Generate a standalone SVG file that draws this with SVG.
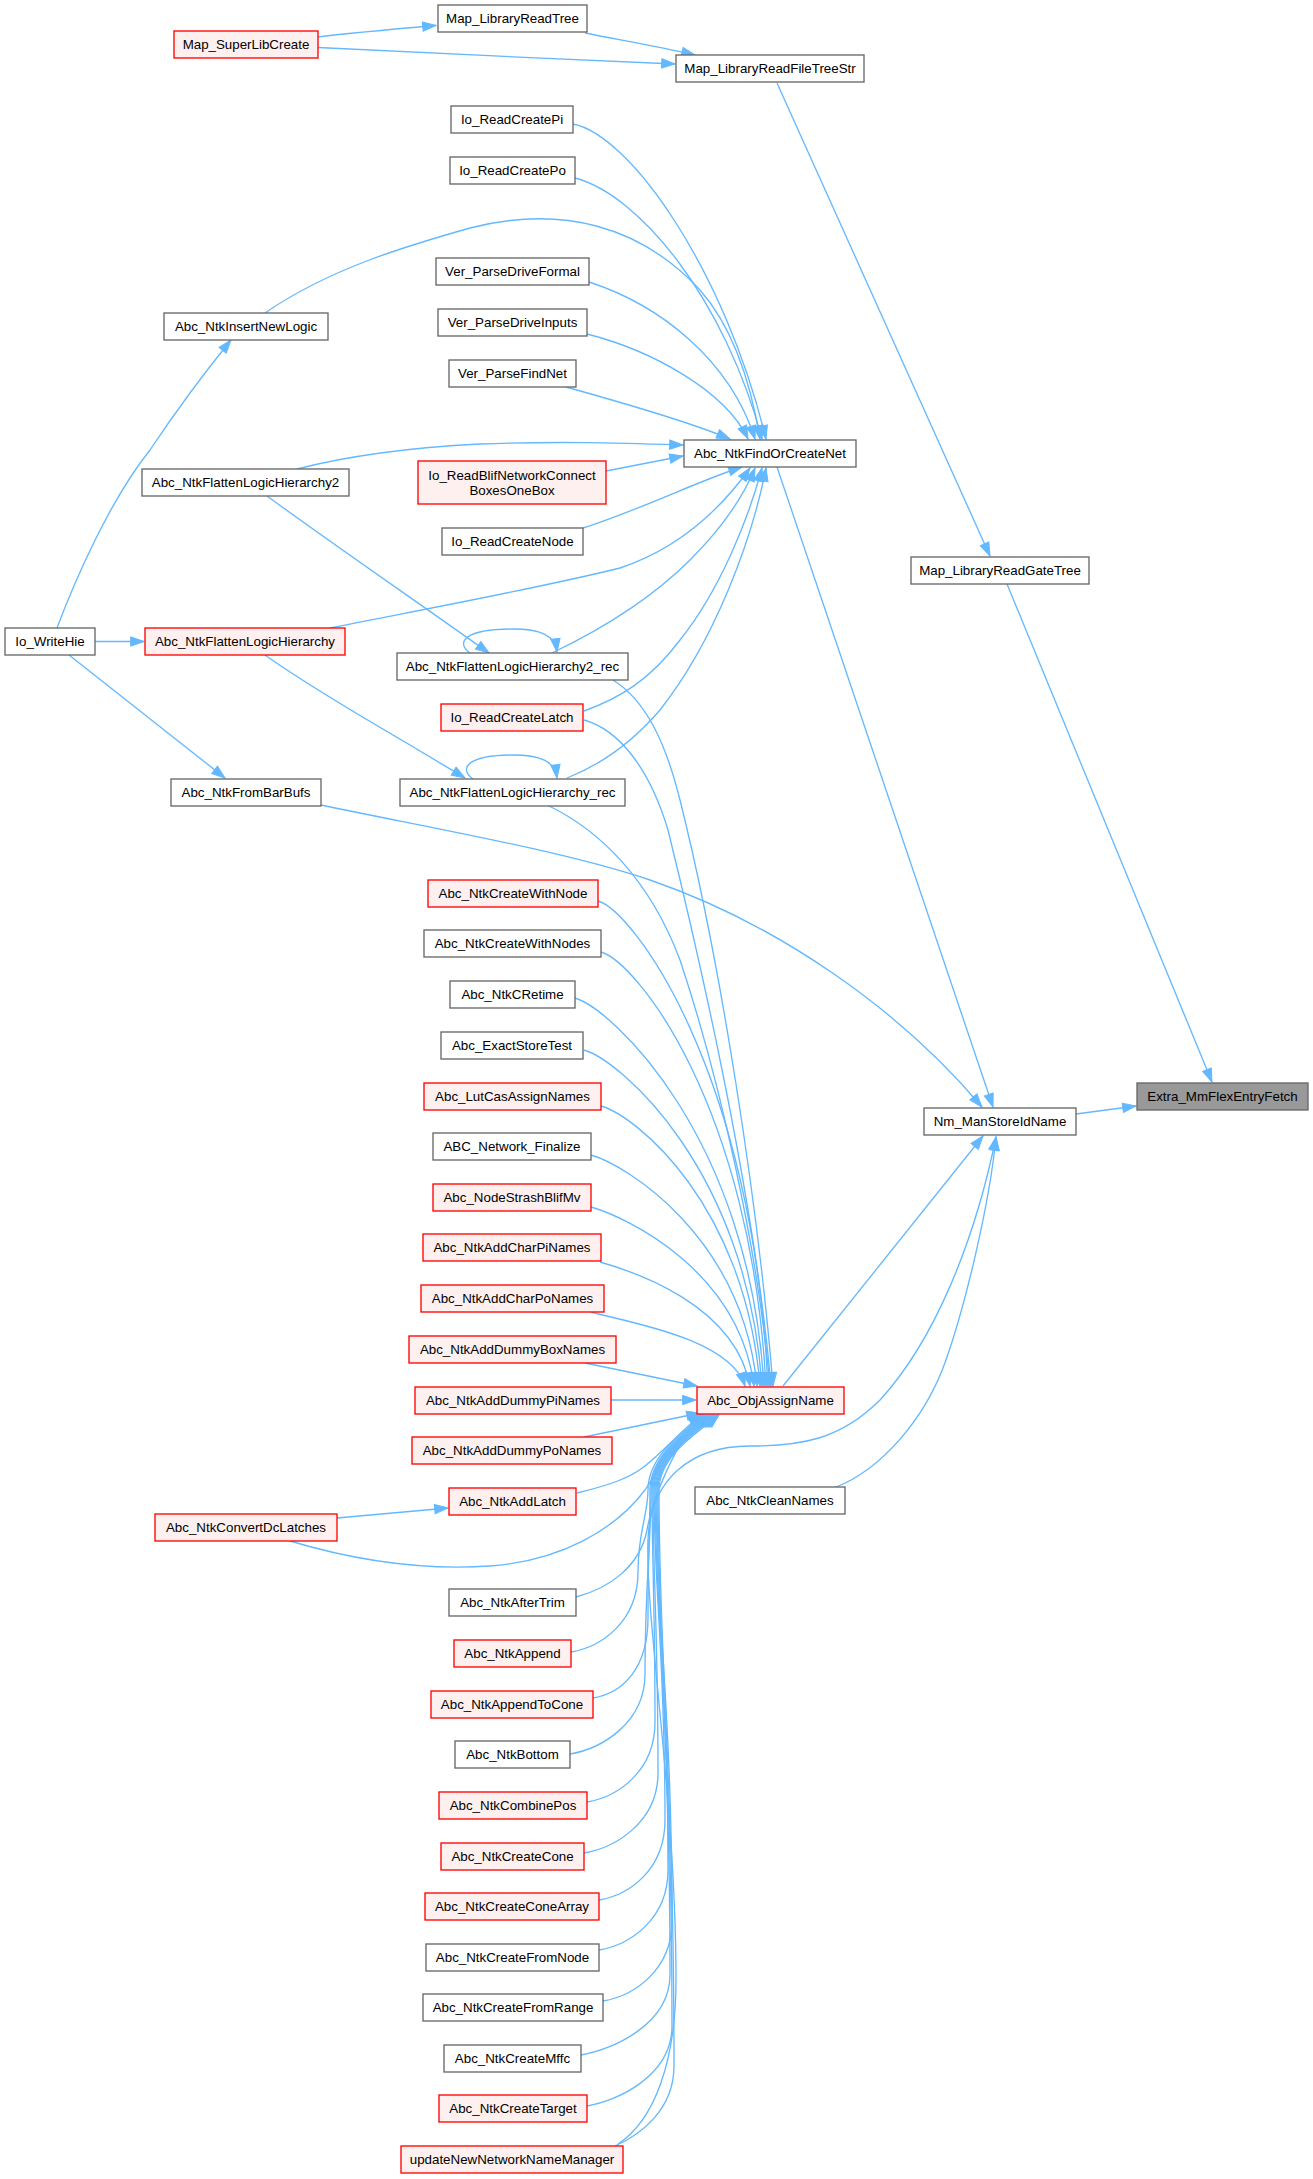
<svg xmlns="http://www.w3.org/2000/svg" width="1313" height="2179" viewBox="0 0 1313 2179">
<style>
.e{fill:none;stroke:#63b8ff;stroke-width:1.33;marker-end:url(#ah)}
.n rect{fill:#ffffff;stroke:#666666;stroke-width:1.33}
.r rect{fill:#fff0f0;stroke:#ff0000;stroke-width:1.33}
.t rect{fill:#999999;stroke:#666666;stroke-width:1.33}
text{font-family:"Liberation Sans",Arial,Helvetica,sans-serif;font-size:13.33px;text-anchor:middle;fill:#000000}
</style>
<defs>
<marker id="ah" markerUnits="userSpaceOnUse" markerWidth="14" markerHeight="10" refX="13.3" refY="4.67" orient="auto" overflow="visible">
<path d="M0,0 L13.3,4.67 L0,9.33 z" fill="#63b8ff" stroke="#63b8ff" stroke-width="1"/>
</marker>
</defs>
<rect width="1313" height="2179" fill="#ffffff"/>
<g id="edges">
<path class="e" d="M318,37 C350,33 395,29 436,25.5"/>
<path class="e" d="M318,47.5 C420,53 560,59 675,64"/>
<path class="e" d="M585,33 C620,40 660,47 695,55"/>
<path class="e" d="M777,83 L990,556"/>
<path class="e" d="M1007,584 L1212,1082"/>
<path class="e" d="M1076,1114 L1136,1106"/>
<path class="e" d="M777,467 L993,1107"/>
<path class="e" d="M321,805 C430,828 560,850 650,880 C780,925 900,1010 982,1107"/>
<path class="e" d="M783,1386 L983,1136"/>
<path class="e" d="M836,1487 C880,1470 925,1420 946,1360 C967,1300 990,1200 996,1137"/>
<path class="e" d="M618,2144 C655,2120 676,2060 676,1980 C676,1800 645,1620 648,1540 C650,1480 690,1446 750,1446 C800,1446 840,1440 880,1400 C935,1340 975,1240 996,1137"/>
<path class="e" d="M57,628 C75,580 110,500 150,450 C180,405 205,372 231,340"/>
<path class="e" d="M95,641.5 L144,641.5"/>
<path class="e" d="M69,655 L225,778"/>
<path class="e" d="M573,124 C630,135 725,270 766,439"/>
<path class="e" d="M575,178 C640,195 725,300 762,439"/>
<path class="e" d="M265,313 C330,268 410,245 470,228 C560,205 640,225 700,290 C735,330 752,390 760,439"/>
<path class="e" d="M589,282 C660,305 730,360 755,439"/>
<path class="e" d="M587,334 C650,350 725,390 748,439"/>
<path class="e" d="M566,387 C620,402 690,422 730,439"/>
<path class="e" d="M297,469 C340,458 400,448 480,444 C560,441 620,443 683,445"/>
<path class="e" d="M606,471 L683,456"/>
<path class="e" d="M583,528 C640,510 700,480 742,467"/>
<path class="e" d="M330,628 C420,610 540,588 620,568 C680,548 720,510 750,468"/>
<path class="e" d="M552,653 C600,630 650,600 690,560 C720,530 742,500 755,468"/>
<path class="e" d="M584,711 C620,698 650,680 680,640 C720,590 748,520 762,468"/>
<path class="e" d="M567,778 C600,765 630,745 660,710 C715,640 752,540 766,468"/>
<path class="e" d="M267,496 C330,542 400,590 489,653"/>
<path class="e" d="M265,655 C300,680 350,710 410,745 C430,757 447,767 465,778"/>
<path class="e" d="M470,653 C455,642 465,629 513,629 C540,629 555,635 557,652"/>
<path class="e" d="M473,779 C458,768 468,755 513,755 C540,755 555,761 557,778"/>
<path class="e" d="M613,680 C645,700 665,740 680,800 C720,960 758,1200 773,1386"/>
<path class="e" d="M584,720 C620,730 650,770 668,830 C700,960 755,1200 771,1386"/>
<path class="e" d="M547,805 C600,830 650,880 680,960 C720,1080 758,1250 770,1386"/>
<path class="e" d="M598,901 C633,911 753,1071 768,1386"/>
<path class="e" d="M601,952 C636,962 751,1104 766,1386"/>
<path class="e" d="M575,998 C610,1008 749,1134 764,1386"/>
<path class="e" d="M584,1050 C619,1060 747,1168 762,1386"/>
<path class="e" d="M601,1106 C636,1116 745,1204 760,1386"/>
<path class="e" d="M591,1155 C626,1165 742,1236 757,1386"/>
<path class="e" d="M591,1207 C626,1217 739,1270 754,1386"/>
<path class="e" d="M600,1262 C635,1272 735,1305 750,1386"/>
<path class="e" d="M591,1312 C626,1322 730,1338 745,1386"/>
<path class="e" d="M585,1363 L697,1386"/>
<path class="e" d="M611,1400 L696,1400"/>
<path class="e" d="M584,1437 L700,1413"/>
<path class="e" d="M577,1493 C610,1485 630,1478 645,1466 C665,1450 682,1430 702,1414"/>
<path class="e" d="M337,1518 L448,1508"/>
<path class="e" d="M290,1541 C360,1562 430,1570 490,1566 C560,1561 615,1530 645,1490 C662,1465 680,1432 702,1415"/>
<path class="e" d="M576,1597 C610,1588 640,1566 647,1530 C652,1500 676,1440 703,1415"/>
<path class="e" d="M571,1652 C601,1647 638,1622 638,1572 C638,1531 648,1515 648,1490 C648,1455 684,1432 704,1415"/>
<path class="e" d="M593,1698 C623,1693 648,1668 648,1618 C648,1554 650,1528 650,1490 C650,1455 686,1432 706,1415"/>
<path class="e" d="M570,1754 C600,1749 645,1724 645,1674 C645,1582 651,1545 651,1490 C651,1455 687,1432 707,1415"/>
<path class="e" d="M587,1802 C617,1797 655,1772 655,1722 C655,1606 652,1560 652,1490 C652,1455 689,1432 709,1415"/>
<path class="e" d="M584,1853 C614,1848 658,1823 658,1773 C658,1632 653,1575 653,1490 C653,1455 690,1432 710,1415"/>
<path class="e" d="M599,1900 C629,1895 665,1870 665,1820 C665,1655 654,1589 654,1490 C654,1455 692,1432 712,1415"/>
<path class="e" d="M599,1950 C629,1945 668,1920 668,1870 C668,1680 655,1604 655,1490 C655,1455 693,1432 713,1415"/>
<path class="e" d="M603,2001 C633,1996 672,1971 672,1921 C672,1706 656,1619 656,1490 C656,1455 694,1432 714,1415"/>
<path class="e" d="M581,2055 C611,2050 670,2025 670,1975 C670,1733 657,1636 657,1490 C657,1455 696,1432 716,1415"/>
<path class="e" d="M587,2106 C617,2101 672,2076 672,2026 C672,1758 658,1651 658,1490 C658,1455 697,1432 717,1415"/>
<path class="e" d="M615,2146 C640,2135 674,2110 674,2066 C674,1778 659,1663 659,1490 C659,1455 699,1432 719,1415"/>
</g>
<g id="node-Io_WriteHie" class="n"><rect x="5" y="628" width="90" height="27"/><text x="50" y="646">Io_WriteHie</text></g>
<g id="node-Map_SuperLibCreate" class="r"><rect x="174" y="31" width="144" height="27"/><text x="246" y="49">Map_SuperLibCreate</text></g>
<g id="node-Abc_NtkInsertNewLogic" class="n"><rect x="164" y="313" width="164" height="27"/><text x="246" y="331">Abc_NtkInsertNewLogic</text></g>
<g id="node-Abc_NtkFlattenLogicHierarchy2" class="n"><rect x="142" y="469" width="207" height="27"/><text x="245.5" y="487">Abc_NtkFlattenLogicHierarchy2</text></g>
<g id="node-Abc_NtkFlattenLogicHierarchy" class="r"><rect x="145" y="628" width="200" height="27"/><text x="245" y="646">Abc_NtkFlattenLogicHierarchy</text></g>
<g id="node-Abc_NtkFromBarBufs" class="n"><rect x="171" y="779" width="150" height="27"/><text x="246" y="797">Abc_NtkFromBarBufs</text></g>
<g id="node-Abc_NtkConvertDcLatches" class="r"><rect x="155" y="1514" width="182" height="27"/><text x="246" y="1532">Abc_NtkConvertDcLatches</text></g>
<g id="node-Map_LibraryReadTree" class="n"><rect x="438" y="5" width="149" height="27"/><text x="512.5" y="23">Map_LibraryReadTree</text></g>
<g id="node-Io_ReadCreatePi" class="n"><rect x="451" y="106" width="122" height="27"/><text x="512" y="124">Io_ReadCreatePi</text></g>
<g id="node-Io_ReadCreatePo" class="n"><rect x="450" y="157" width="125" height="27"/><text x="512.5" y="175">Io_ReadCreatePo</text></g>
<g id="node-Ver_ParseDriveFormal" class="n"><rect x="436" y="258" width="153" height="27"/><text x="512.5" y="276">Ver_ParseDriveFormal</text></g>
<g id="node-Ver_ParseDriveInputs" class="n"><rect x="438" y="309" width="149" height="27"/><text x="512.5" y="327">Ver_ParseDriveInputs</text></g>
<g id="node-Ver_ParseFindNet" class="n"><rect x="449" y="360" width="127" height="27"/><text x="512.5" y="378">Ver_ParseFindNet</text></g>
<g id="node-Io_ReadBlifNetworkConnectBoxesOneBox" class="r"><rect x="418" y="461" width="188" height="43"/><text x="512" y="479.5">Io_ReadBlifNetworkConnect</text><text x="512" y="494.5">BoxesOneBox</text></g>
<g id="node-Io_ReadCreateNode" class="n"><rect x="442" y="528" width="141" height="27"/><text x="512.5" y="546">Io_ReadCreateNode</text></g>
<g id="node-Abc_NtkFlattenLogicHierarchy2_rec" class="n"><rect x="397" y="653" width="231" height="27"/><text x="512.5" y="671">Abc_NtkFlattenLogicHierarchy2_rec</text></g>
<g id="node-Io_ReadCreateLatch" class="r"><rect x="441" y="704" width="142" height="27"/><text x="512" y="722">Io_ReadCreateLatch</text></g>
<g id="node-Abc_NtkFlattenLogicHierarchy_rec" class="n"><rect x="400" y="779" width="225" height="27"/><text x="512.5" y="797">Abc_NtkFlattenLogicHierarchy_rec</text></g>
<g id="node-Abc_NtkCreateWithNode" class="r"><rect x="428" y="880" width="170" height="27"/><text x="513" y="898">Abc_NtkCreateWithNode</text></g>
<g id="node-Abc_NtkCreateWithNodes" class="n"><rect x="424" y="930" width="177" height="27"/><text x="512.5" y="948">Abc_NtkCreateWithNodes</text></g>
<g id="node-Abc_NtkCRetime" class="n"><rect x="450" y="981" width="125" height="27"/><text x="512.5" y="999">Abc_NtkCRetime</text></g>
<g id="node-Abc_ExactStoreTest" class="n"><rect x="441" y="1032" width="142" height="27"/><text x="512" y="1050">Abc_ExactStoreTest</text></g>
<g id="node-Abc_LutCasAssignNames" class="r"><rect x="424" y="1083" width="177" height="27"/><text x="512.5" y="1101">Abc_LutCasAssignNames</text></g>
<g id="node-ABC_Network_Finalize" class="n"><rect x="433" y="1133" width="158" height="27"/><text x="512" y="1151">ABC_Network_Finalize</text></g>
<g id="node-Abc_NodeStrashBlifMv" class="r"><rect x="433" y="1184" width="158" height="27"/><text x="512" y="1202">Abc_NodeStrashBlifMv</text></g>
<g id="node-Abc_NtkAddCharPiNames" class="r"><rect x="423" y="1234" width="178" height="27"/><text x="512" y="1252">Abc_NtkAddCharPiNames</text></g>
<g id="node-Abc_NtkAddCharPoNames" class="r"><rect x="421" y="1285" width="183" height="27"/><text x="512.5" y="1303">Abc_NtkAddCharPoNames</text></g>
<g id="node-Abc_NtkAddDummyBoxNames" class="r"><rect x="409" y="1336" width="207" height="27"/><text x="512.5" y="1354">Abc_NtkAddDummyBoxNames</text></g>
<g id="node-Abc_NtkAddDummyPiNames" class="r"><rect x="415" y="1387" width="196" height="27"/><text x="513" y="1405">Abc_NtkAddDummyPiNames</text></g>
<g id="node-Abc_NtkAddDummyPoNames" class="r"><rect x="412" y="1437" width="200" height="27"/><text x="512" y="1455">Abc_NtkAddDummyPoNames</text></g>
<g id="node-Abc_NtkAddLatch" class="r"><rect x="449" y="1488" width="127" height="27"/><text x="512.5" y="1506">Abc_NtkAddLatch</text></g>
<g id="node-Abc_NtkAfterTrim" class="n"><rect x="449" y="1589" width="127" height="27"/><text x="512.5" y="1607">Abc_NtkAfterTrim</text></g>
<g id="node-Abc_NtkAppend" class="r"><rect x="454" y="1640" width="117" height="27"/><text x="512.5" y="1658">Abc_NtkAppend</text></g>
<g id="node-Abc_NtkAppendToCone" class="r"><rect x="431" y="1691" width="162" height="27"/><text x="512" y="1709">Abc_NtkAppendToCone</text></g>
<g id="node-Abc_NtkBottom" class="n"><rect x="455" y="1741" width="115" height="27"/><text x="512.5" y="1759">Abc_NtkBottom</text></g>
<g id="node-Abc_NtkCombinePos" class="r"><rect x="439" y="1792" width="148" height="27"/><text x="513" y="1810">Abc_NtkCombinePos</text></g>
<g id="node-Abc_NtkCreateCone" class="r"><rect x="441" y="1843" width="143" height="27"/><text x="512.5" y="1861">Abc_NtkCreateCone</text></g>
<g id="node-Abc_NtkCreateConeArray" class="r"><rect x="425" y="1893" width="174" height="27"/><text x="512" y="1911">Abc_NtkCreateConeArray</text></g>
<g id="node-Abc_NtkCreateFromNode" class="n"><rect x="426" y="1944" width="173" height="27"/><text x="512.5" y="1962">Abc_NtkCreateFromNode</text></g>
<g id="node-Abc_NtkCreateFromRange" class="n"><rect x="423" y="1994" width="180" height="27"/><text x="513" y="2012">Abc_NtkCreateFromRange</text></g>
<g id="node-Abc_NtkCreateMffc" class="n"><rect x="444" y="2045" width="137" height="27"/><text x="512.5" y="2063">Abc_NtkCreateMffc</text></g>
<g id="node-Abc_NtkCreateTarget" class="r"><rect x="439" y="2095" width="148" height="27"/><text x="513" y="2113">Abc_NtkCreateTarget</text></g>
<g id="node-updateNewNetworkNameManager" class="r"><rect x="401" y="2146" width="222" height="27"/><text x="512" y="2164">updateNewNetworkNameManager</text></g>
<g id="node-Map_LibraryReadFileTreeStr" class="n"><rect x="676" y="55" width="188" height="27"/><text x="770" y="73">Map_LibraryReadFileTreeStr</text></g>
<g id="node-Abc_NtkFindOrCreateNet" class="n"><rect x="684" y="440" width="172" height="27"/><text x="770" y="458">Abc_NtkFindOrCreateNet</text></g>
<g id="node-Abc_ObjAssignName" class="r"><rect x="697" y="1387" width="147" height="27"/><text x="770.5" y="1405">Abc_ObjAssignName</text></g>
<g id="node-Abc_NtkCleanNames" class="n"><rect x="695" y="1487" width="150" height="27"/><text x="770" y="1505">Abc_NtkCleanNames</text></g>
<g id="node-Map_LibraryReadGateTree" class="n"><rect x="911" y="557" width="178" height="27"/><text x="1000" y="575">Map_LibraryReadGateTree</text></g>
<g id="node-Nm_ManStoreIdName" class="n"><rect x="924" y="1108" width="152" height="27"/><text x="1000" y="1126">Nm_ManStoreIdName</text></g>
<g id="node-Extra_MmFlexEntryFetch" class="t"><rect x="1137" y="1083" width="171" height="27"/><text x="1222.5" y="1101">Extra_MmFlexEntryFetch</text></g>
</svg>
